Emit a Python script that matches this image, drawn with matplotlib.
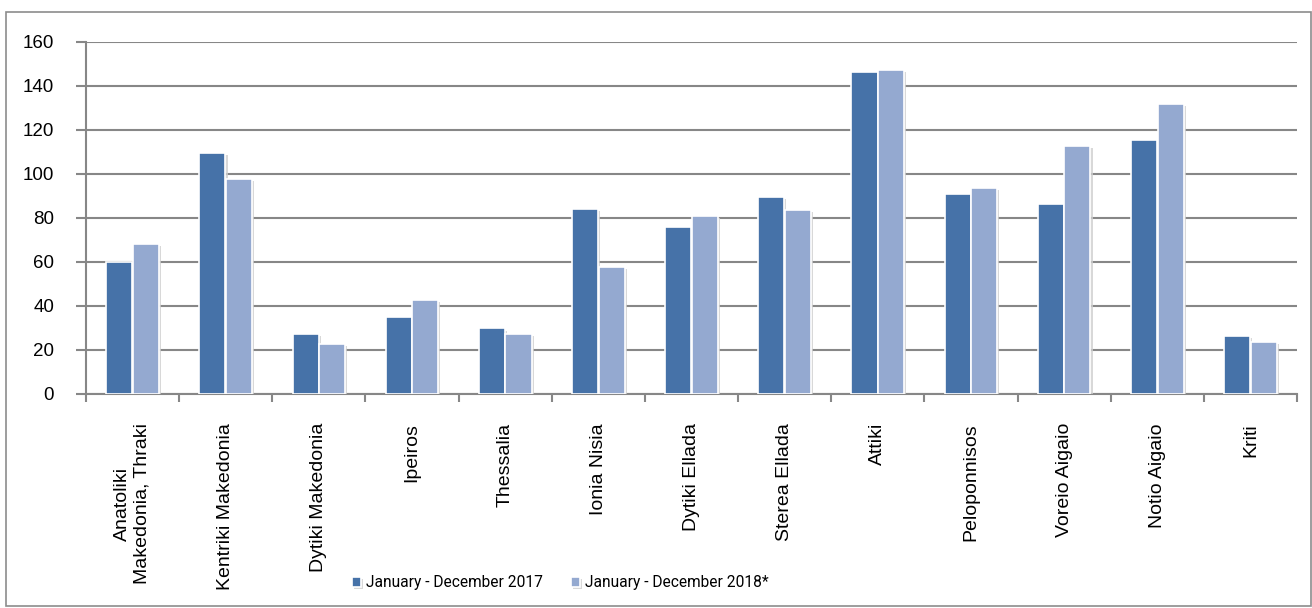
import matplotlib
matplotlib.use("Agg")
import matplotlib.pyplot as plt
import matplotlib.patheffects as pe
import numpy as np
from matplotlib.patches import Rectangle

categories = ["Anatoliki\nMakedonia, Thraki", "Kentriki Makedonia", "Dytiki Makedonia",
              "Ipeiros", "Thessalia", "Ionia Nisia", "Dytiki Ellada", "Sterea Ellada",
              "Attiki", "Peloponnisos", "Voreio Aigaio", "Notio Aigaio", "Kriti"]
series_2017 = [60.1, 109.5, 27.1, 35.0, 29.8, 84.2, 75.9, 89.7, 146.5, 90.8, 86.5, 115.6, 26.2]
series_2018 = [68.0, 97.7, 22.9, 42.6, 27.1, 57.6, 80.8, 83.8, 147.1, 93.5, 112.6, 132.0, 23.5]
labels = ["January - December 2017", "January - December 2018*"]
yticks = [0, 20, 40, 60, 80, 100, 120, 140, 160]

plt.rcParams['font.family'] = ['Liberation Sans', 'DejaVu Sans']

W, H = 1312, 608
fig = plt.figure(figsize=(W/100, H/100), dpi=100)
fig.patch.set_facecolor('white')
fig.patches.append(Rectangle((6/W, 2/H), (1311-6)/W, (596-2)/H, transform=fig.transFigure,
                             fill=False, edgecolor='#8c8c8c', linewidth=1.2))

left, right, top, bottom = 86, 1297, 42, 394
ax = fig.add_axes([left/W, 1-bottom/H, (right-left)/W, (bottom-top)/H])

n = len(categories)
x = np.arange(n)
bw = 0.28
off = 0.143
shadow = [pe.SimplePatchShadow(offset=(1.5, -1.5), shadow_rgbFace='#cfcfcf', alpha=0.8), pe.Normal()]
b1 = ax.bar(x - off, series_2017, bw, color='#4672A8', edgecolor='white', linewidth=1.2,
            label=labels[0], zorder=3, path_effects=shadow)
b2 = ax.bar(x + off, series_2018, bw, color='#94A9D0', edgecolor='white', linewidth=1.2,
            label=labels[1], zorder=3, path_effects=shadow)

ax.set_xlim(-0.5, n - 0.5)
ax.set_ylim(0, 160)
ax.set_yticks(yticks)
ax.yaxis.grid(True, color='#878787', linewidth=1.5, zorder=0)
ax.set_axisbelow(True)
for s in ['top', 'right']:
    ax.spines[s].set_visible(False)
for s in ['left', 'bottom']:
    ax.spines[s].set_color('#878787')
    ax.spines[s].set_linewidth(1.5)

ax.set_xticks(np.arange(-0.5, n, 1.0))
ax.set_xticklabels([])
ax.tick_params(axis='x', length=6, width=1.5, color='#878787', direction='out')
ax.tick_params(axis='y', length=7, width=1.5, color='#878787', direction='out', labelsize=13.5, pad=16)

for i, c in enumerate(categories):
    ax.text(i, -13.2, c, rotation=90, ha='center', va='top', fontsize=14,
            multialignment='center')

fig.legend(handles=[b1, b2], labels=labels, loc='center', bbox_to_anchor=(560/W, 1-583/H),
           ncol=2, frameon=False, prop={'family': ['Roboto', 'DejaVu Sans'], 'size': 11.2},
           handlelength=0.6, handleheight=0.6, handletextpad=0.3, columnspacing=1.8)

fig.savefig('out.png', dpi=100, facecolor='white')
